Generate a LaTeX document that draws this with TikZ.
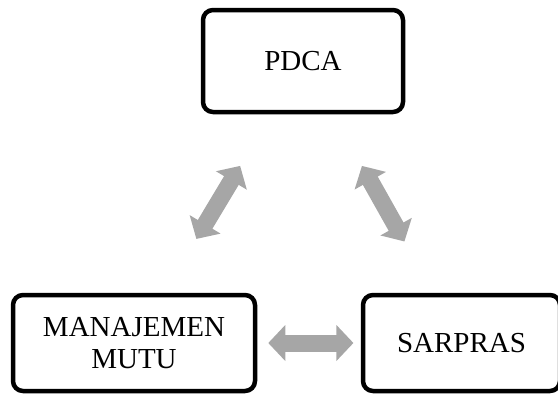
\documentclass[tikz,border=0pt]{standalone}
\usepackage{fontspec}
\setmainfont{Liberation Serif}
\usepackage{tikz}
\usetikzlibrary{arrows.meta,calc,positioning}
\definecolor{arrowgray}{RGB}{166,166,166}

\begin{document}
\begin{tikzpicture}[x=1pt,y=-1pt]
\tikzset{
  box/.style={draw,line width=4.5pt,rounded corners=10pt,align=center,
    font=\fontsize{29}{32}\selectfont,inner sep=0pt},
  dblarrow/.style={draw=arrowgray,line width=17pt,
    {Triangle[length=17pt 0,width=35pt 0]}-{Triangle[length=17pt 0,width=35pt 0]}}
}
\useasboundingbox (0,0) rectangle (558,394);
\node[box,minimum width=200pt,minimum height=102pt] (P) at (303,61) {PDCA};
\node[box,minimum width=242pt,minimum height=96pt] (M) at (134,343) {MANAJEMEN\\MUTU};
\node[box,minimum width=197pt,minimum height=96pt] (S) at (461.5,343) {SARPRAS};
\draw[dblarrow] ($(M)!0.369!(P)$) -- ($(M)!0.628!(P)$);
\draw[dblarrow] ($(P)!0.372!(S)$) -- ($(P)!0.640!(S)$);
\draw[dblarrow] ($(M)!0.41!(S)$) -- ($(M)!0.67!(S)$);
\end{tikzpicture}
\end{document}
